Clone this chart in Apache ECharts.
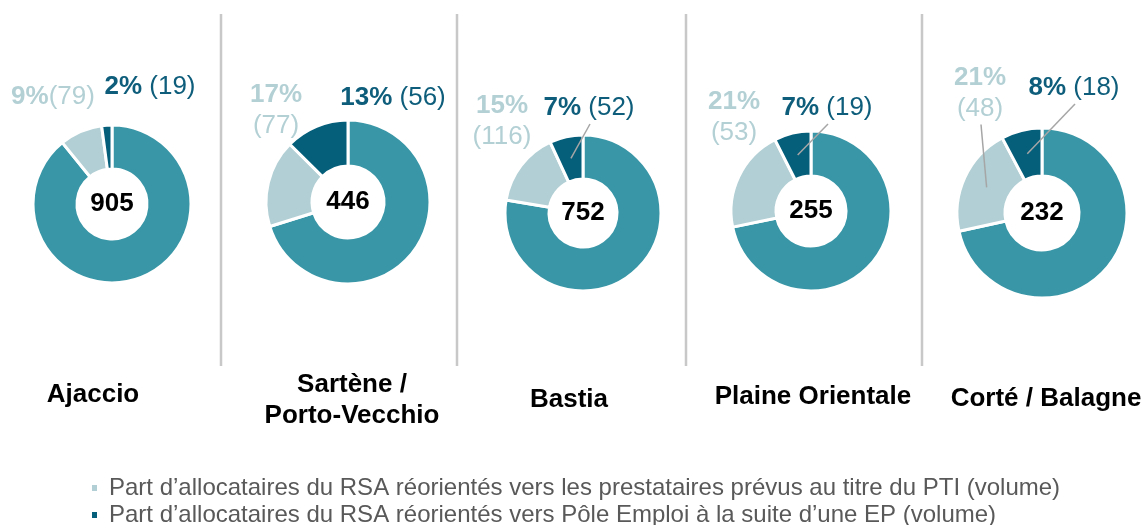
<!DOCTYPE html>
<html>
<head>
<meta charset="utf-8">
<script src="https://cdn.jsdelivr.net/npm/echarts@6/dist/echarts.min.js"></script>
<style>
  html, body { margin: 0; padding: 0; background: #fff; }
  #main { width: 1145px; height: 525px; }
</style>
</head>
<body>
<div id="main"></div>
<script>
// donnees
var sites = ['Ajaccio', 'Sartène /\nPorto-Vecchio', 'Bastia', 'Plaine Orientale', 'Corté / Balagne'];
var totals = [905, 446, 752, 255, 232];
var ptiValues = [79, 77, 116, 53, 48];   // prestataires PTI
var peValues = [19, 56, 52, 19, 18];     // Pole Emploi
var legendNames = [
	'Part d\u2019allocataires du RSA réorientés vers les prestataires prévus au titre du PTI (volume)',
	'Part d\u2019allocataires du RSA réorientés vers Pôle Emploi à la suite d\u2019une EP (volume)'
];

// mise en page (px)
var centers = [[112, 204], [348, 202], [583, 213], [811, 211], [1042, 213]];
var outerR = [79, 82, 78, 80, 85];
var nameY = [395, 400, 400, 397, 399];
var nameX = [93, 352, 569, 813, 1046];
// position des etiquettes [x, y] pour PTI puis PE
var labelPos = [
	[[53, 97], [150, 87]],
	[[276, 110], [393, 98]],
	[[502, 121], [589, 108]],
	[[734, 117], [827, 108]],
	[[980, 93], [1074, 88]]
];
var showLine = [[false, false], [false, false], [false, true], [false, true], [true, true]];
var twoLines = [false, true, true, true, true];
var separators = [221, 457, 686, 922];

var colMain = '#3896A6', colPti = '#B1CFD4', colPe = '#055E7A';
var font = '"Liberation Sans", Arial, sans-serif';

var myChart = echarts.init(document.getElementById('main'));

var series = [];
for (var i = 0; i < sites.length; i++) {
	(function(i){
		var rest = totals[i] - ptiValues[i] - peValues[i];
		var values = [rest, ptiValues[i], peValues[i]];
		var rIn = Math.round(outerR[i] * 0.44);

		// anneau
		series.push({
			type: 'pie',
			name: sites[i],
			center: centers[i],
			radius: [rIn, outerR[i]],
			startAngle: 90,
			clockwise: true,
			animation: false,
			silent: true,
			itemStyle: { borderColor: '#fff', borderWidth: 3 },
			label: { show: false },
			labelLine: { show: false },
			data: [
				{
					value: rest, name: 'reste', itemStyle: { color: colMain },
					label: {
						show: true, position: 'center',
						formatter: String(totals[i]),
						fontFamily: font, fontSize: 26, fontWeight: 'bold', color: '#000'
					}
				},
				{ value: ptiValues[i], name: legendNames[0], itemStyle: { color: colPti } },
				{ value: peValues[i], name: legendNames[1], itemStyle: { color: colPe } }
			]
		});

		// etiquettes + traits de rappel (secteurs transparents, dessines par-dessus)
		series.push({
			type: 'pie',
			name: sites[i] + ' etiquettes',
			z: 3,
			center: centers[i],
			radius: [rIn, outerR[i]],
			startAngle: 90,
			clockwise: true,
			avoidLabelOverlap: false,
			animation: false,
			silent: true,
			itemStyle: { color: 'rgba(0,0,0,0)', borderWidth: 0 },
			labelLine: { show: false, lineStyle: { color: '#A6A6A6', width: 1.5 }, length: 10, length2: 0 },
			data: [
				{ value: rest, name: 'reste', label: { show: false } },
				{
					value: ptiValues[i], name: legendNames[0],
					labelLine: { show: showLine[i][0] },
					label: {
						show: true, position: 'outside',
						formatter: function(p){
							var sep = twoLines[i] ? '\n' : '';
							return '{b|' + Math.round(p.percent) + '%}' + sep + '{n|(' + p.value + ')}';
						},
						align: 'center',
						rich: {
							b: { fontFamily: font, fontSize: 26, fontWeight: 'bold', color: '#B3D0D5', lineHeight: 31, align: 'center' },
							n: { fontFamily: font, fontSize: 26, color: '#B3D0D5', lineHeight: 31, align: 'center' }
						}
					}
				},
				{
					value: peValues[i], name: legendNames[1],
					labelLine: { show: showLine[i][1] },
					label: {
						show: true, position: 'outside',
						formatter: function(p){
							return '{b|' + Math.round(p.percent) + '%}{n| (' + p.value + ')}';
						},
						rich: {
							b: { fontFamily: font, fontSize: 26, fontWeight: 'bold', color: '#0E5E7B' },
							n: { fontFamily: font, fontSize: 26, color: '#0E5E7B' }
						}
					}
				}
			],
			labelLayout: function(params){
				if (params.dataIndex === 0) return {};
				var p = labelPos[i][params.dataIndex - 1];
				var res = { x: p[0], y: p[1], align: 'center', verticalAlign: 'middle' };
				if (showLine[i][params.dataIndex - 1]) {
					// trait depuis le milieu de l'anneau, sur l'angle median du secteur
					var cum = 0;
					for (var k = 0; k < params.dataIndex; k++) cum += values[k];
					var frac = (cum + values[params.dataIndex] / 2) / totals[i];
					var a = frac * 2 * Math.PI;
					var rm = (rIn + outerR[i]) / 2;
					var c = centers[i];
					var start = [c[0] + rm * Math.sin(a), c[1] - rm * Math.cos(a)];
					var end = [p[0] + 1, p[1] + params.labelRect.height / 2 + 3];
					res.labelLinePoints = [start, end, end];
				}
				return res;
			}
		});
	})(i);
}

var graphics = [];
separators.forEach(function(x){
	graphics.push({
		type: 'line', silent: true,
		shape: { x1: x, y1: 14, x2: x, y2: 366 },
		style: { stroke: '#C8C8C8', lineWidth: 2.5 }
	});
});
sites.forEach(function(s, i){
	graphics.push({
		type: 'text', silent: true,
		x: nameX[i], y: nameY[i],
		style: {
			text: s, fill: '#000', font: 'bold 26px ' + font,
			textAlign: 'center', textVerticalAlign: 'middle', lineHeight: 31
		}
	});
});

var legends = legendNames.map(function(n, k){
	return {
		data: [{ name: n, itemStyle: { color: k === 0 ? colPti : colPe } }],
		left: 85,
		top: 471 + k * 27,
		icon: 'rect',
		itemWidth: 7,
		itemHeight: 8,
		selectedMode: false,
		textStyle: { fontFamily: font, fontSize: 24, color: '#595959', padding: [0, 0, 0, 6] }
	};
});

option = {
	backgroundColor: '#fff',
	animation: false,
	color: [colMain, colPti, colPe],
	legend: legends,
	graphic: graphics,
	series: series
};
myChart.setOption(option);
</script>
</body>
</html>
